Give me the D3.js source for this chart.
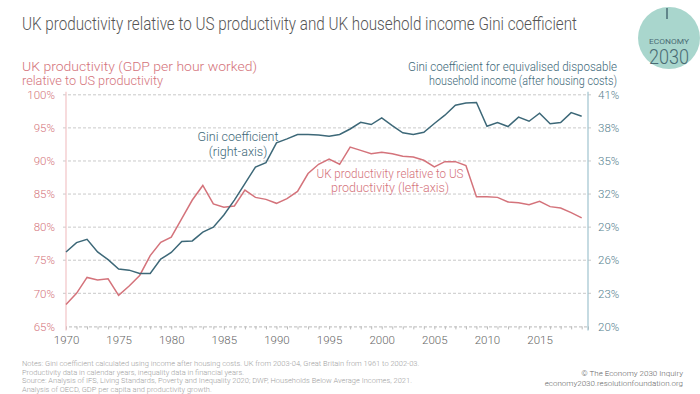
<!DOCTYPE html>
<html>
<head>
<meta charset="utf-8">
<script src="https://cdn.jsdelivr.net/npm/d3@7"></script>
<style>
  body { margin: 0; background: #fff; }
  svg { font-family: Roboto, "Noto Sans", sans-serif; font-weight: 300; }
</style>
</head>
<body>
<div id="chart"></div>
<script>
// years on the x axis
var years = [1970, 1971, 1972, 1973, 1974, 1975, 1976, 1977, 1978, 1979,
    1980, 1981, 1982, 1983, 1984, 1985, 1986, 1987, 1988, 1989,
    1990, 1991, 1992, 1993, 1994, 1995, 1996, 1997, 1998, 1999,
    2000, 2001, 2002, 2003, 2004, 2005, 2006, 2007, 2008, 2009,
    2010, 2011, 2012, 2013, 2014, 2015, 2016, 2017, 2018, 2019];

// UK productivity relative to US (%), left axis
var productivity = [68.3, 70.0, 72.4, 72.0, 72.2, 69.7, 71.1, 72.7, 75.7, 77.7,
    78.5, 81.3, 84.1, 86.3, 83.5, 83.0, 83.2, 85.6, 84.5, 84.2,
    83.6, 84.3, 85.4, 88.1, 89.5, 90.3, 89.5, 92.1, 91.6, 91.1,
    91.3, 91.1, 90.7, 90.6, 90.1, 89.1, 89.9, 89.9, 89.3, 84.6,
    84.6, 84.5, 83.8, 83.7, 83.4, 83.9, 83.1, 82.9, 82.2, 81.4];

// Gini coefficient AHC (%), right axis
var gini = [26.75, 27.6, 27.9, 26.75, 26.05, 25.2, 25.1, 24.8, 24.8, 26.1,
    26.7, 27.7, 27.75, 28.55, 29.0, 30.1, 31.45, 32.95, 34.45, 34.85,
    36.65, 37.0, 37.4, 37.4, 37.35, 37.25, 37.4, 37.9, 38.5, 38.3,
    38.9, 38.2, 37.55, 37.4, 37.6, 38.4, 39.15, 40.05, 40.25, 40.3,
    38.15, 38.48, 38.12, 38.98, 38.6, 39.33, 38.37, 38.48, 39.38, 39.05];

var leftTicks = [65, 70, 75, 80, 85, 90, 95, 100];
var rightTicks = [20, 23, 26, 29, 32, 35, 38, 41];
var yearLabels = [1970, 1975, 1980, 1985, 1990, 1995, 2000, 2005, 2010, 2015];

var notes = [
    "Notes: Gini coefficient calculated using income after housing costs. UK from 2003-04, Great Britain from 1961 to 2002-03.",
    "Productivity data in calendar years, inequality data in financial years.",
    "Source: Analysis of IFS, Living Standards, Poverty and Inequality 2020; DWP, Households Below Average Incomes, 2021.",
    "Analysis of OECD, GDP per capita and productivity growth."
];

var red = "#d4737b";
var blue = "#3d6878";
var grey = "#666";

var svgWidth = 700;
var svgHeight = 394;

var svg = d3.select("#chart")
    .append("svg")
    .attr("width", svgWidth)
    .attr("height", svgHeight);

var plotLeft = 66, plotRight = 588, plotTop = 94.8, plotBottom = 326.4;

var x = d3.scaleLinear().domain([1970, 2019.6]).range([plotLeft, plotRight]);
var yL = d3.scaleLinear().domain([65, 100]).range([plotBottom, plotTop]);
var yR = d3.scaleLinear().domain([20, 41]).range([plotBottom, plotTop]);

// title
svg.append("text")
    .attr("x", 22).attr("y", 30)
    .attr("font-size", 17.5)
    .attr("fill", "#555")
    .attr("textLength", 555)
    .attr("lengthAdjust", "spacingAndGlyphs")
    .text("UK productivity relative to US productivity and UK household income Gini coefficient");

// logo
var logo = svg.append("g");
logo.append("circle").attr("cx", 669).attr("cy", 38).attr("r", 31).attr("fill", "#a9d6cd");
logo.append("line").attr("x1", 667).attr("x2", 667).attr("y1", 8).attr("y2", 19)
    .attr("stroke", "#4a6b74").attr("stroke-width", 1.5);
logo.append("text").attr("x", 669).attr("y", 44).attr("text-anchor", "middle")
    .attr("font-size", 7.5).attr("font-weight", 400).attr("fill", "#4a6b74")
    .attr("textLength", 40).attr("lengthAdjust", "spacingAndGlyphs").text("ECONOMY");
logo.append("text").attr("x", 669).attr("y", 64).attr("text-anchor", "middle")
    .attr("font-size", 21).attr("fill", "#4a6b74")
    .attr("textLength", 40).attr("lengthAdjust", "spacingAndGlyphs").text("2030");

// axis titles
var lt = svg.append("text").attr("font-size", 12.5).attr("fill", red);
lt.append("tspan").attr("x", 22).attr("y", 71).attr("textLength", 235)
    .attr("lengthAdjust", "spacingAndGlyphs").text("UK productivity (GDP per hour worked)");
lt.append("tspan").attr("x", 22).attr("y", 85).attr("textLength", 141)
    .attr("lengthAdjust", "spacingAndGlyphs").text("relative to US productivity");

var rt = svg.append("text").attr("font-size", 12.5).attr("fill", blue);
rt.append("tspan").attr("x", 408).attr("y", 71).attr("textLength", 209)
    .attr("lengthAdjust", "spacingAndGlyphs").text("Gini coefficient for equivalised disposable");
rt.append("tspan").attr("x", 429).attr("y", 85).attr("textLength", 188)
    .attr("lengthAdjust", "spacingAndGlyphs").text("household income (after housing costs)");

// gridlines
svg.append("g").selectAll("line")
    .data(leftTicks.slice(1))
    .enter().append("line")
    .attr("x1", plotLeft - 3).attr("x2", plotRight + 4)
    .attr("y1", d => yL(d)).attr("y2", d => yL(d))
    .attr("stroke", "#bbb").attr("stroke-dasharray", "3,2").attr("stroke-width", 0.8);

// bottom axis
var bottomAxis = d3.axisBottom(x)
    .tickValues(years.concat([2019.6]))
    .tickSize(3)
    .tickFormat(d => yearLabels.indexOf(d) >= 0 ? d : "");
var gx = svg.append("g")
    .attr("transform", `translate(0, ${plotBottom})`)
    .call(bottomAxis);
gx.select(".domain").attr("stroke", "#bbb").attr("stroke-dasharray", "3,2");
gx.selectAll(".tick line").attr("stroke", "#bbb");
gx.selectAll(".tick text").attr("font-size", 11.5).attr("fill", grey)
    .attr("font-family", "Roboto").attr("dy", "1.05em");

// left axis
var leftAxis = d3.axisLeft(yL).tickValues(leftTicks).tickSize(0).tickPadding(11)
    .tickFormat(d => d + "%");
var gl = svg.append("g").attr("transform", `translate(${plotLeft}, 0)`).call(leftAxis);
gl.select(".domain").remove();
gl.selectAll(".tick text").attr("font-size", 11.5).attr("fill", red).attr("font-family", "Roboto");
svg.append("line").attr("x1", plotLeft).attr("x2", plotLeft).attr("y1", plotTop - 3).attr("y2", plotBottom + 4)
    .attr("stroke", "#f2c4c7").attr("stroke-width", 1.2);

// right axis
var rightAxis = d3.axisRight(yR).tickValues(rightTicks).tickSize(0).tickPadding(10)
    .tickFormat(d => d + "%");
var gr = svg.append("g").attr("transform", `translate(${plotRight}, 0)`).call(rightAxis);
gr.select(".domain").remove();
gr.selectAll(".tick text").attr("font-size", 11.5).attr("fill", "#56808e").attr("font-family", "Roboto");
svg.append("line").attr("x1", plotRight).attr("x2", plotRight).attr("y1", plotTop - 3).attr("y2", plotBottom + 4)
    .attr("stroke", "#9fc3cf").attr("stroke-width", 1.2);

// lines
var prodLine = d3.line().x((d, i) => x(years[i])).y(d => yL(d));
var giniLine = d3.line().x((d, i) => x(years[i])).y(d => yR(d));

svg.append("path").datum(productivity)
    .attr("d", prodLine).attr("fill", "none")
    .attr("stroke", red).attr("stroke-width", 1.5);
svg.append("path").datum(gini)
    .attr("d", giniLine).attr("fill", "none")
    .attr("stroke", blue).attr("stroke-width", 1.5);

// line labels
var ga = svg.append("text").attr("font-size", 12.5).attr("fill", blue).attr("text-anchor", "middle");
ga.append("tspan").attr("x", 238).attr("y", 141).text("Gini coefficient");
ga.append("tspan").attr("x", 238).attr("y", 156).text("(right-axis)");

var pa = svg.append("text").attr("font-size", 12.5).attr("fill", red).attr("text-anchor", "middle");
pa.append("tspan").attr("x", 390).attr("y", 178).attr("textLength", 147)
    .attr("lengthAdjust", "spacingAndGlyphs").text("UK productivity relative to US");
pa.append("tspan").attr("x", 390).attr("y", 192).text("productivity (left-axis)");

// footer
svg.append("g").selectAll("text")
    .data(notes)
    .enter().append("text")
    .attr("x", 22)
    .attr("y", (d, i) => 366 + i * 8.5)
    .attr("font-size", 7.5)
    .attr("fill", "#a0a0a0")
    .text(d => d);

svg.append("text").attr("x", 683).attr("y", 376).attr("text-anchor", "end")
    .attr("font-size", 8).attr("fill", "#666").text("\u00a9 The Economy 2030 Inquiry");
svg.append("text").attr("x", 683).attr("y", 386).attr("text-anchor", "end")
    .attr("font-size", 8).attr("fill", "#666").text("economy2030.resolutionfoundation.org");
</script>
</body>
</html>
